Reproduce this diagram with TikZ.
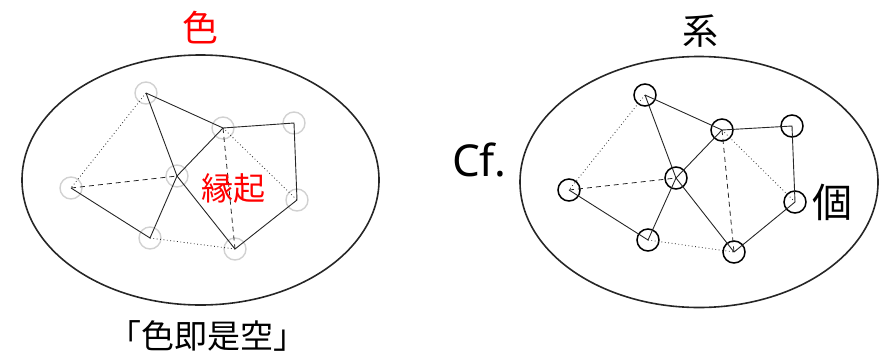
\documentclass[tikz,border=0pt]{standalone}
\usepackage{fontspec}
\setmainfont{Noto Sans CJK JP}
\newfontfamily\lat{Noto Sans}
\begin{document}
\begin{tikzpicture}[x=1pt,y=-1pt,
  frame/.style={draw=black!85, line width=1.6pt},
  vtxL/.style={circle, draw=black!18, line width=1.4pt, minimum size=22pt, inner sep=0pt},
  vtxR/.style={circle, draw=black, line width=1.5pt, minimum size=22pt, inner sep=0pt},
  solidE/.style={draw=black!85, line width=0.9pt},
  dotE/.style={draw=black!85, line width=0.8pt, dash pattern=on 0.8pt off 2.6pt},
  dashE/.style={draw=black!85, line width=0.8pt, dash pattern=on 5pt off 4pt},
  lbl/.style={inner sep=0pt}]
\useasboundingbox (0,0) rectangle (880,357);
% ellipses
\draw[frame] (200.5,180) ellipse [x radius=178.5, y radius=125];
\draw[frame] (699,182) ellipse [x radius=179, y radius=125.5];
% left graph
\node[vtxL] (a) at (146,93) {};
\node[vtxL] (b) at (223,128) {};
\node[vtxL] (c) at (294,123) {};
\node[vtxL] (d) at (177,176) {};
\node[vtxL] (e) at (71,188) {};
\node[vtxL] (f) at (297,200) {};
\node[vtxL] (g) at (150,238) {};
\node[vtxL] (h) at (235,249) {};
\draw[solidE] (a.center) -- (b.center) -- (c.center) -- (f.center) -- (h.center) -- (d.center) -- (a.center);
\draw[solidE] (b.center) -- (d.center) -- (g.center) -- (e.center);
\draw[dotE] (a.center) -- (e.center);
\draw[dotE] (g.center) -- (h.center);
\draw[dotE] (b.center) -- (f.center);
\draw[dashE] (e.center) -- (d.center);
\draw[dashE] (b.center) -- (h.center);
% right graph
\node[vtxR] (ra) at (645,95) {};
\node[vtxR] (rb) at (722,130) {};
\node[vtxR] (rc) at (792,126) {};
\node[vtxR] (rd) at (676,178) {};
\node[vtxR] (re) at (569,190) {};
\node[vtxR] (rf) at (795,202) {};
\node[vtxR] (rg) at (648,240) {};
\node[vtxR] (rh) at (734,252) {};
\draw[solidE] (ra.center) -- (rb.center) -- (rc.center) -- (rf.center) -- (rh.center) -- (rd.center) -- (ra.center);
\draw[solidE] (rb.center) -- (rd.center) -- (rg.center) -- (re.center);
\draw[dotE] (ra.center) -- (re.center);
\draw[dotE] (rg.center) -- (rh.center);
\draw[dotE] (rb.center) -- (rf.center);
\draw[dashE] (re.center) -- (rd.center);
\draw[dashE] (rb.center) -- (rh.center);
% labels
\node[lbl, text=red, font=\fontsize{36}{40}\selectfont] (t1) at (200,28) {色};
\node[lbl, font=\fontsize{36}{40}\selectfont] (t2) at (700,31) {系};
\node[lbl, text=red, font=\fontsize{32}{36}\selectfont] (t3) at (233,188) {縁起};
\node[lbl, font=\lat\fontsize{44}{48}\selectfont] (t4) at (479,160) {Cf.};
\node[lbl, font=\fontsize{40}{44}\selectfont] (t5) at (832,202) {個};
\node[lbl, font=\fontsize{33}{36}\selectfont] (t6) at (207,336) {「色即是空」};
\end{tikzpicture}
\end{document}
